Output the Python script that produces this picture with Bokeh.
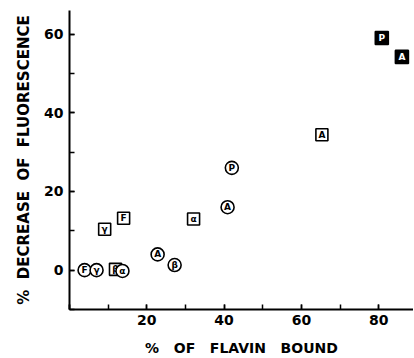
from bokeh.plotting import figure
from bokeh.models import Range1d, SingleIntervalTicker, ColumnDataSource
from bokeh.core.properties import value
from bokeh.embed import file_html
from bokeh.resources import INLINE

# open circles
circ_x = [3.9, 7.0, 22.8, 27.2, 40.9, 42.0, 13.7]
circ_y = [0.0, 0.0, 4.0, 1.3, 16.0, 26.0, -0.2]
circ_lab = ["F", "γ", "A", "β", "A", "P", "α"]
# open squares
sq_x = [9.1, 14.0, 11.9, 32.1, 65.3]
sq_y = [10.4, 13.2, 0.2, 13.0, 34.4]
sq_lab = ["γ", "F", "β", "α", "A"]
# filled squares
fsq_x = [80.8, 86.0]
fsq_y = [59.0, 54.2]
fsq_lab = ["P", "A"]

NB = "\u00a0"

p = figure(frame_width=344, frame_height=299, output_backend="svg", toolbar_location=None,
           x_range=Range1d(0, 89.0), y_range=Range1d(-10, 66))
p.min_border_left = 69
p.min_border_right = 0
p.min_border_top = 10
p.min_border_bottom = 0
p.outline_line_color = None
p.xgrid.grid_line_color = None
p.ygrid.grid_line_color = None
p.background_fill_color = "white"
p.border_fill_color = "white"

font = "DejaVu Sans"
for ax in (p.xaxis[0], p.yaxis[0]):
    ax.axis_line_width = 2
    ax.axis_line_color = "black"
    ax.major_tick_in = 5
    ax.major_tick_out = 0
    ax.minor_tick_in = 5
    ax.minor_tick_out = 0
    ax.major_tick_line_width = 1.5
    ax.minor_tick_line_width = 1.5
    ax.major_label_text_font = font
    ax.major_label_text_font_size = "14px"
    ax.major_label_text_font_style = "bold"
    ax.major_label_text_color = "black"
    ax.axis_label_text_font = font
    ax.axis_label_text_font_style = "bold"
    ax.axis_label_text_color = "black"

p.xaxis.axis_label_text_font_size = "14px"
p.yaxis.axis_label_text_font_size = "15px"
p.xaxis.ticker = SingleIntervalTicker(interval=20, num_minor_ticks=2)
p.yaxis.ticker = SingleIntervalTicker(interval=20, num_minor_ticks=2)
p.xaxis.major_label_overrides = {0: ""}
p.xaxis.major_label_standoff = 5
p.yaxis.major_label_standoff = 6
p.xaxis.axis_label = (NB * 3).join(["%", "OF", "FLAVIN", "BOUND"])
p.yaxis.axis_label = (NB * 2).join(["%", "DECREASE", "OF", "FLUORESCENCE"])
p.xaxis.axis_label_standoff = 12
p.yaxis.axis_label_standoff = 8

sq_src = ColumnDataSource(dict(x=sq_x, y=sq_y, t=sq_lab))
c_src = ColumnDataSource(dict(x=circ_x, y=circ_y, t=circ_lab))
f_src = ColumnDataSource(dict(x=fsq_x, y=fsq_y, t=fsq_lab))

p.scatter("x", "y", source=sq_src, marker="square", size=12, fill_color="white",
          line_color="black", line_width=1.6)
p.text("x", "y", text="t", source=sq_src, text_align="center", text_baseline="middle",
       text_font=value(font), text_font_size="9px", text_font_style="bold", text_color="black")
p.scatter("x", "y", source=c_src, marker="circle", size=13, fill_color="white",
          line_color="black", line_width=1.6)
p.text("x", "y", text="t", source=c_src, text_align="center", text_baseline="middle",
       text_font=value(font), text_font_size="9px", text_font_style="bold", text_color="black")
p.scatter("x", "y", source=f_src, marker="square", size=13, fill_color="black",
          line_color="black", line_width=1.6)
p.text("x", "y", text="t", source=f_src, text_align="center", text_baseline="middle",
       text_font=value(font), text_font_size="9px", text_font_style="bold", text_color="white")

open("out.html", "w").write(file_html(p, INLINE))
